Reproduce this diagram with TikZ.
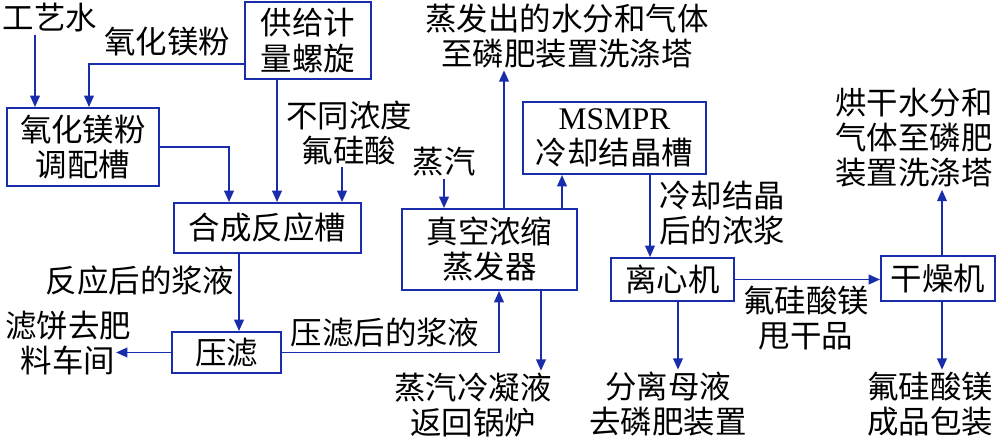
\documentclass[tikz,border=0pt]{standalone}
\usepackage{fontspec}
\setmainfont{Noto Sans CJK SC}
\newfontfamily\latin{Liberation Serif}
\usetikzlibrary{arrows.meta}
\definecolor{flowblue}{RGB}{25,45,170}

\begin{document}
\begin{tikzpicture}[x=0.02cm,y=-0.02cm,
        every node/.style={align=center,inner sep=1pt,
            font=\fontsize{17.9pt}{20pt}\selectfont},
        box/.style={draw=flowblue,line width=1.1pt,inner sep=0pt},
        flow/.style={flowblue,line width=1.1pt,
            -{Triangle[length=6.5pt,width=5.5pt]}}]
    \useasboundingbox (0,0) rectangle (1000,444);

    \node (water) at (50,18) {工艺水};
    \node (mgo) at (167,42) {氧化镁粉};
    \node[box,minimum width=2.52cm,minimum height=1.54cm] (feed) at (308,40.5) {供给计\\量螺旋};
    \node[box,minimum width=3.04cm,minimum height=1.56cm] (prep) at (83,147) {氧化镁粉\\调配槽};
    \node (acid) at (349,133) {不同浓度\\氟硅酸};

    \node[box,minimum width=3.74cm,minimum height=1cm] (reactor) at (267.5,228) {合成反应槽};
    \node (slurry1) at (140,281) {反应后的浆液};
    \node[box,minimum width=2.18cm,minimum height=0.82cm] (press) at (226.5,352.5) {压滤};
    \node (cake) at (68,343) {滤饼去肥\\料车间};
    \node (slurry2) at (385,333) {压滤后的浆液};

    \node (steam) at (444,162) {蒸汽};
    \node[box,minimum width=3.5cm,minimum height=1.62cm] (evap) at (489.5,249.5) {真空浓缩\\蒸发器};
    \node (vapour) at (567,36) {蒸发出的水分和气体\\至磷肥装置洗涤塔};
    \node (cond) at (473,405) {蒸汽冷凝液\\返回锅炉};

    \node[box,minimum width=3.66cm,minimum height=1.44cm] (msmpr) at (614.5,138) {{\latin MSMPR}\\冷却结晶槽};
    \node (crystal) at (722,213) {冷却结晶\\后的浓浆};
    \node[box,minimum width=2.46cm,minimum height=0.86cm] (cent) at (672.5,279.5) {离心机};
    \node (mother) at (668,404) {分离母液\\去磷肥装置};
    \node (dried) at (806,318) {氟硅酸镁\\甩干品};

    \node[box,minimum width=2.28cm,minimum height=0.9cm] (dryer) at (938,278.5) {干燥机};
    \node (product) at (930,404) {氟硅酸镁\\成品包装};
    \node (offgas) at (914,138) {烘干水分和\\气体至磷肥\\装置洗涤塔};

    % feed side
    \draw[flow] ([xshift=-0.3cm]water.south) -- ([xshift=-0.3cm]water.south |- prep.north);
    \draw[flow] ([yshift=-0.47cm]feed.west) -| ([xshift=0.12cm]prep.north);
    \draw[flow] (prep.east) -| ([xshift=-0.77cm]reactor.north);
    \draw[flow] ([xshift=-0.62cm]feed.south) -- ([xshift=-0.62cm]feed.south |- reactor.north);
    \draw[flow] ([xshift=-0.14cm]acid.south) -- ([xshift=-0.14cm]acid.south |- reactor.north);
    \draw[flow] ([xshift=-0.57cm]reactor.south) -- ([xshift=-0.57cm]reactor.south |- press.north);
    \draw[flow] (press.west) -- ++(-55,0);
    \draw[flow] (press.east) -| ([xshift=0.19cm]evap.south);

    % evaporator and crystalliser
    \draw[flow] (steam.south) -- (steam.south |- evap.north);
    \draw[flow] ([xshift=0.29cm]evap.north) -- ([xshift=0.29cm]evap.north |- vapour.south);
    \draw[flow] ([xshift=1.03cm]evap.south) -- ([xshift=1.03cm]evap.south |- cond.north);
    \draw[flow] ([xshift=-1.05cm]msmpr.south |- evap.north) -- ([xshift=-1.05cm]msmpr.south);
    \draw[flow] ([xshift=0.71cm]msmpr.south) -- ([xshift=0.71cm]msmpr.south |- cent.north);

    % centrifuge and dryer
    \draw[flow] (cent.east) -- (cent.east -| dryer.west);
    \draw[flow] ([xshift=0.11cm]cent.south) -- ([xshift=0.11cm]cent.south |- mother.north);
    \draw[flow] ([xshift=0.08cm]dryer.south) -- ([xshift=0.08cm]dryer.south |- product.north);
    \draw[flow] ([xshift=0.08cm]dryer.north) -- ([xshift=0.08cm]dryer.north |- offgas.south);
\end{tikzpicture}
\end{document}
